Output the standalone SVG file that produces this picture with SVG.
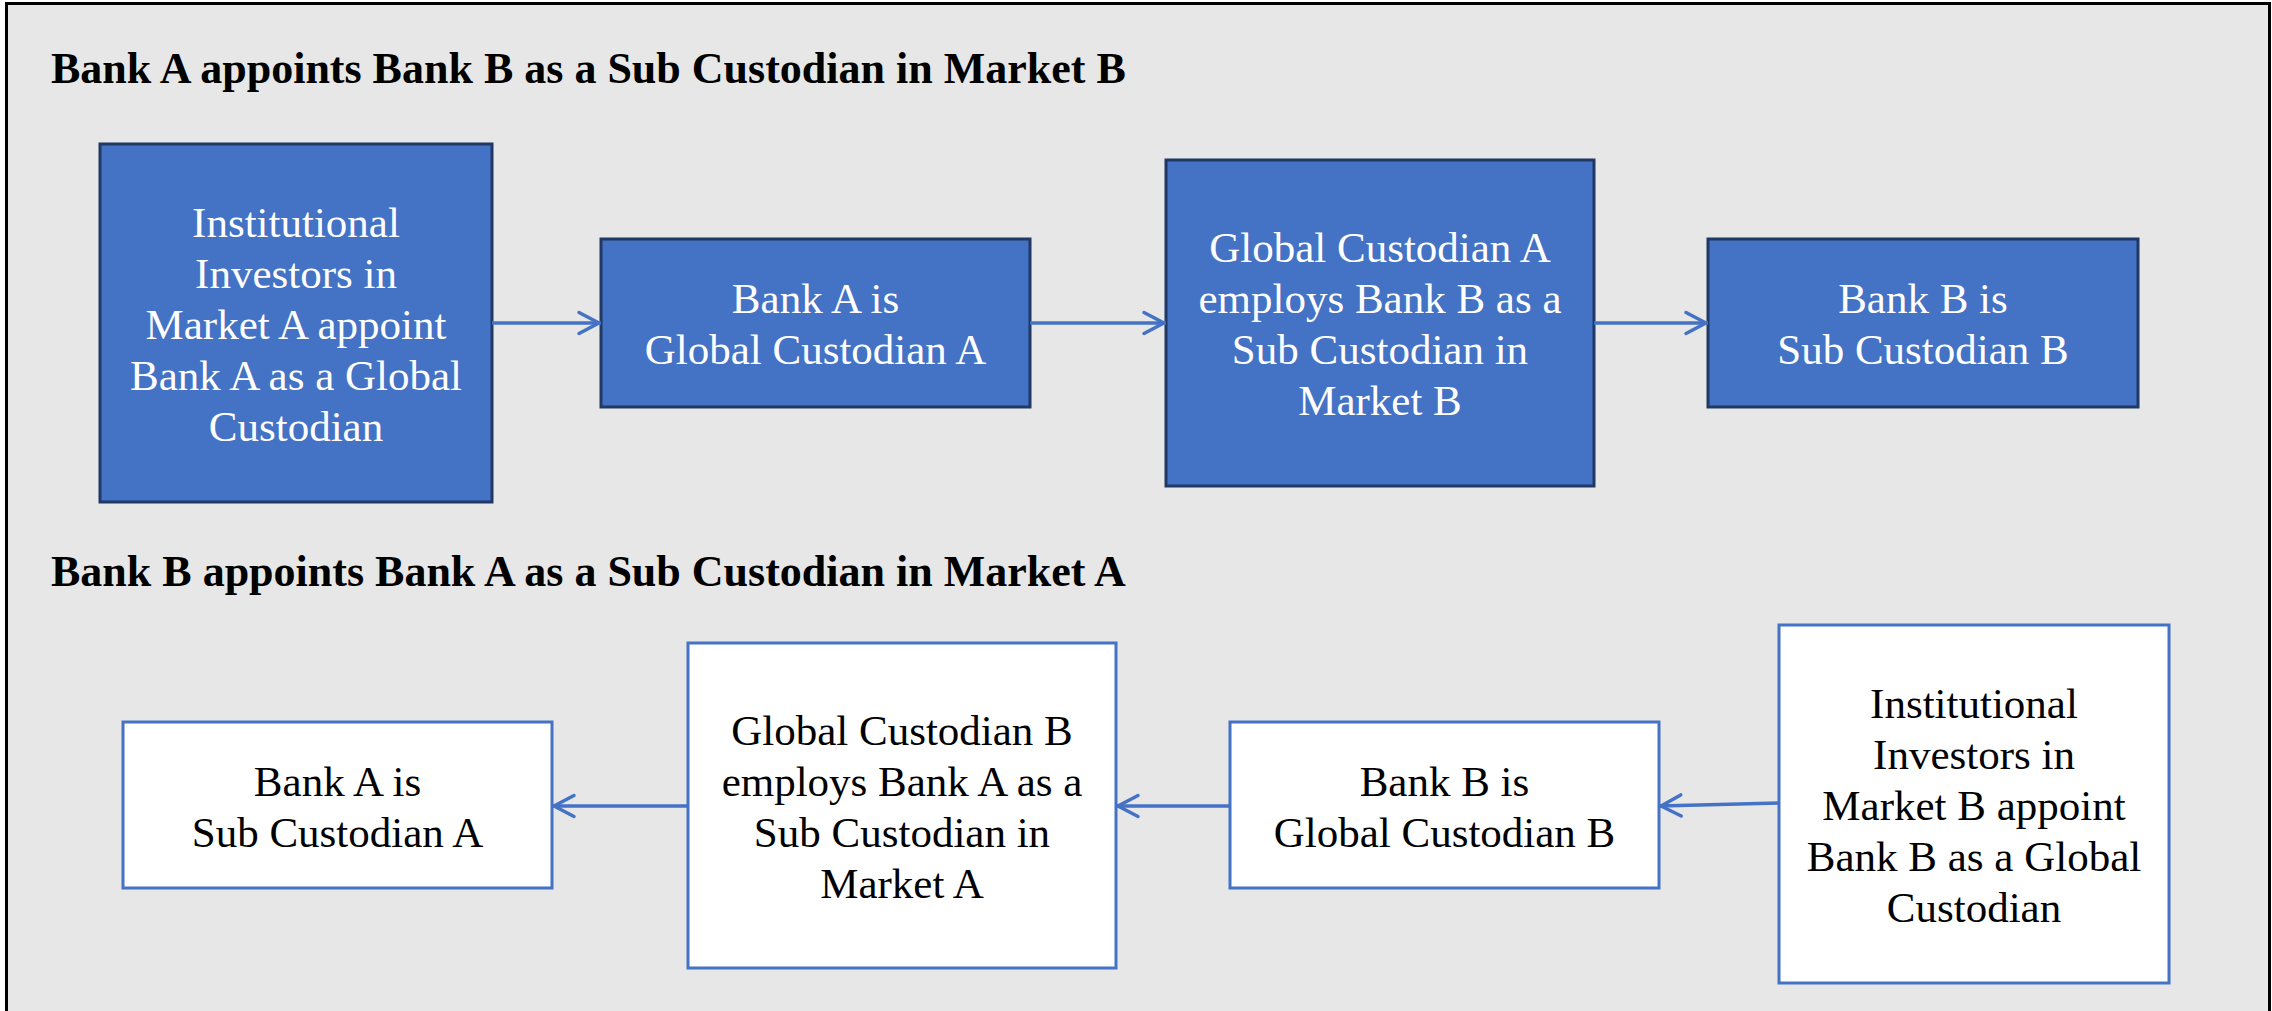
<svg xmlns="http://www.w3.org/2000/svg" width="2272" height="1011" viewBox="0 0 2272 1011">
  <style>
    .title { font-family: "Liberation Serif", "Times New Roman", serif; font-weight: bold; font-size: 44px; fill: #000; }
    .lbl { font-family: "Liberation Serif", "Times New Roman", serif; font-size: 43px; text-anchor: middle; }
    .dark rect { fill: #4472C4; stroke: #1F3864; stroke-width: 3; }
    .dark text { fill: #FFFFFF; }
    .light rect { fill: #FFFFFF; stroke: #4472C4; stroke-width: 3; }
    .light text { fill: #000000; }
    .conn line { stroke: #4472C4; stroke-width: 3.5; fill: none; marker-end: url(#arrow); }
  </style>
  <defs>
    <marker id="arrow" markerUnits="userSpaceOnUse" viewBox="-26 -13 28 26" refX="0" refY="0" markerWidth="28" markerHeight="26" orient="auto" overflow="visible">
      <path d="M-22,-10.5 L-2,0 L-22,10.5" fill="none" stroke="#4472C4" stroke-width="3.5" stroke-linecap="round" stroke-linejoin="round"/>
    </marker>
  </defs>

  <rect x="0" y="0" width="2272" height="1011" fill="#FFFFFF"/>
  <rect id="frame" x="6.5" y="3.5" width="2263" height="1030" fill="#E7E7E7" stroke="#000000" stroke-width="3"/>

  <text id="title1" class="title" x="51" y="83">Bank A appoints Bank B as a Sub Custodian in Market B</text>
  <text id="title2" class="title" x="51" y="586">Bank B appoints Bank A as a Sub Custodian in Market A</text>

  <g id="n1" class="dark">
    <rect x="100" y="144" width="392" height="358"/>
    <text class="lbl" x="296" y="237">Institutional</text>
    <text class="lbl" x="296" y="288">Investors in</text>
    <text class="lbl" x="296" y="339">Market A appoint</text>
    <text class="lbl" x="296" y="390">Bank A as a Global</text>
    <text class="lbl" x="296" y="441">Custodian</text>
  </g>
  <g id="n2" class="dark">
    <rect x="601" y="239" width="429" height="168"/>
    <text class="lbl" x="815.5" y="313">Bank A is</text>
    <text class="lbl" x="815.5" y="364">Global Custodian A</text>
  </g>
  <g id="n3" class="dark">
    <rect x="1166" y="160" width="428" height="326"/>
    <text class="lbl" x="1380" y="262">Global Custodian A</text>
    <text class="lbl" x="1380" y="313">employs Bank B as a</text>
    <text class="lbl" x="1380" y="364">Sub Custodian in</text>
    <text class="lbl" x="1380" y="415">Market B</text>
  </g>
  <g id="n4" class="dark">
    <rect x="1708" y="239" width="430" height="168"/>
    <text class="lbl" x="1923" y="313">Bank B is</text>
    <text class="lbl" x="1923" y="364">Sub Custodian B</text>
  </g>

  <g id="n5" class="light">
    <rect x="123" y="722" width="429" height="166"/>
    <text class="lbl" x="337.5" y="796">Bank A is</text>
    <text class="lbl" x="337.5" y="847">Sub Custodian A</text>
  </g>
  <g id="n6" class="light">
    <rect x="688" y="643" width="428" height="325"/>
    <text class="lbl" x="902" y="745">Global Custodian B</text>
    <text class="lbl" x="902" y="796">employs Bank A as a</text>
    <text class="lbl" x="902" y="847">Sub Custodian in</text>
    <text class="lbl" x="902" y="898">Market A</text>
  </g>
  <g id="n7" class="light">
    <rect x="1230" y="722" width="429" height="166"/>
    <text class="lbl" x="1444.5" y="796">Bank B is</text>
    <text class="lbl" x="1444.5" y="847">Global Custodian B</text>
  </g>
  <g id="n8" class="light">
    <rect x="1779" y="625" width="390" height="358"/>
    <text class="lbl" x="1974" y="718">Institutional</text>
    <text class="lbl" x="1974" y="769">Investors in</text>
    <text class="lbl" x="1974" y="820">Market B appoint</text>
    <text class="lbl" x="1974" y="871">Bank B as a Global</text>
    <text class="lbl" x="1974" y="922">Custodian</text>
  </g>

  <g id="connectors" class="conn">
    <line x1="492" y1="323" x2="601" y2="323"/>
    <line x1="1030" y1="323" x2="1166" y2="323"/>
    <line x1="1594" y1="323" x2="1708" y2="323"/>
    <line x1="688" y1="806" x2="552" y2="806"/>
    <line x1="1230" y1="806" x2="1116" y2="806"/>
    <line x1="1779" y1="803" x2="1659" y2="806"/>
  </g>
</svg>
